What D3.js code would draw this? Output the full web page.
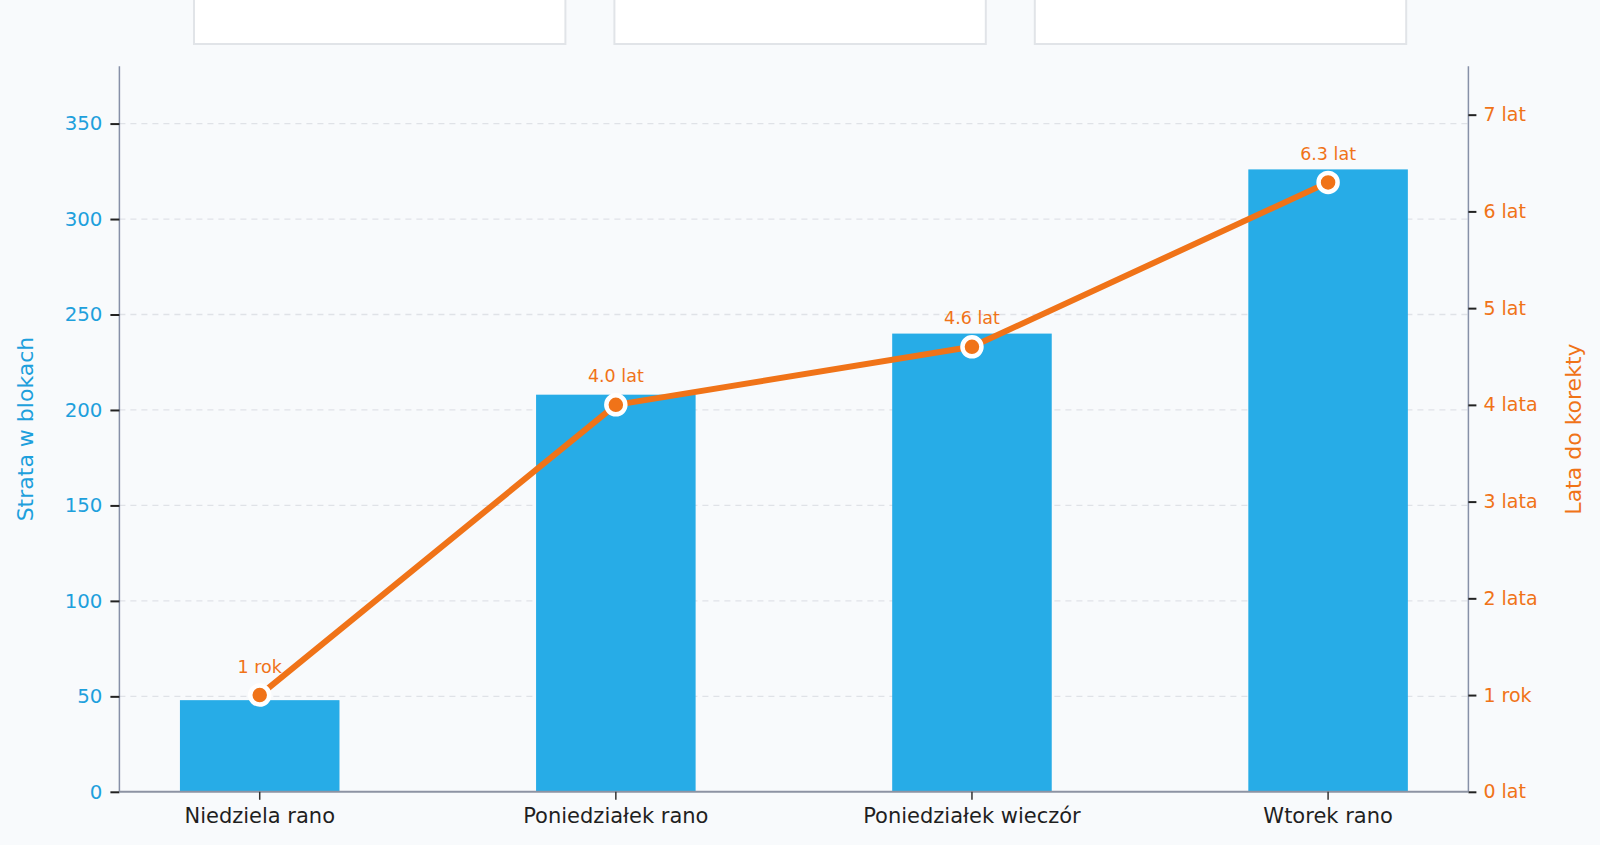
<!DOCTYPE html>
<html>
<head>
<meta charset="utf-8">
<script src="https://cdn.jsdelivr.net/npm/d3@7"></script>
<style>
  html, body { margin: 0; padding: 0; background: #f8fafc; }
  svg { display: block; font-family: "DejaVu Sans", "Open Sans", sans-serif; }
</style>
</head>
<body>
<svg id="chart" width="1600" height="845"></svg>
<script>
const categories = ["Niedziela rano", "Poniedziałek rano", "Poniedziałek wieczór", "Wtorek rano"];
const lossBlocks = [48, 208, 240, 326];
const yearsToCorrection = [1, 4.0, 4.6, 6.3];
const pointLabels = ["1 rok", "4.0 lat", "4.6 lat", "6.3 lat"];
const leftTicks = [0, 50, 100, 150, 200, 250, 300, 350];
const rightTicks = [0, 1, 2, 3, 4, 5, 6, 7];
const rightTickLabels = ["0 lat", "1 rok", "2 lata", "3 lata", "4 lata", "5 lat", "6 lat", "7 lat"];
const cards = ["card1", "card2", "card3"];

const blue = "#27ace7", blueText = "#1ea0dc", orange = "#f07318";
const svg = d3.select("#chart");
const m = {left: 119.4, right: 1468.4, top: 66.3, bottom: 791.8};

// top cards (partially cut off at the top)
const cardX = d3.scaleBand().domain(cards).range([194, 194 + 2 * 420.4 + 371.4]).paddingInner(49 / 420.4).paddingOuter(0);
svg.append("g").selectAll("rect").data(cards).join("rect")
  .attr("x", d => cardX(d)).attr("y", -10)
  .attr("width", cardX.bandwidth()).attr("height", 54)
  .attr("fill", "#ffffff").attr("stroke", "#e1e4e8").attr("stroke-width", 2);

const x = d3.scaleBand().domain(categories).range([m.left, m.right]).paddingInner(0.552).paddingOuter(0.17);
const yL = d3.scaleLinear().domain([0, 380]).range([m.bottom, m.top]);
const yR = d3.scaleLinear().domain([0, 7.5]).range([m.bottom, m.top]);

// grid
svg.append("g").selectAll("line").data(leftTicks.filter(d => d > 0)).join("line")
  .attr("x1", m.left).attr("x2", m.right)
  .attr("y1", d => yL(d)).attr("y2", d => yL(d))
  .attr("stroke", "#dfe2e7").attr("stroke-width", 1.3).attr("stroke-dasharray", "6,5");

// bars
svg.append("g").selectAll("rect").data(categories).join("rect")
  .attr("x", d => x(d)).attr("width", x.bandwidth())
  .attr("y", (d, i) => yL(lossBlocks[i]))
  .attr("height", (d, i) => yL(0) - yL(lossBlocks[i]))
  .attr("fill", blue);

// left axis
const gL = svg.append("g").attr("transform", `translate(${m.left},0)`)
  .call(d3.axisLeft(yL).tickValues(leftTicks).tickSize(9).tickPadding(8));
gL.select(".domain").attr("stroke", "#8790a8").attr("stroke-width", 1.5).attr("d", `M0,${m.top}V${m.bottom}`);
gL.selectAll(".tick line").attr("stroke", "#222").attr("stroke-width", 2);
gL.selectAll(".tick text").attr("fill", blueText).attr("font-size", 19.8).attr("font-family", "'DejaVu Sans', sans-serif");

// right axis
const gR = svg.append("g").attr("transform", `translate(${m.right},0)`)
  .call(d3.axisRight(yR).tickValues(rightTicks).tickFormat((d, i) => rightTickLabels[i]).tickSize(8).tickPadding(7));
gR.select(".domain").attr("stroke", "#8790a8").attr("stroke-width", 1.5).attr("d", `M0,${m.top}V${m.bottom}`);
gR.selectAll(".tick line").attr("stroke", "#222").attr("stroke-width", 2);
gR.selectAll(".tick text").attr("fill", orange).attr("font-size", 19).attr("font-family", "'DejaVu Sans', sans-serif");

// bottom axis
const xc = d => x(d) + x.bandwidth() / 2;
const gB = svg.append("g").attr("transform", `translate(0,${m.bottom})`)
  .call(d3.axisBottom(x).tickSize(8).tickPadding(8));
gB.select(".domain").attr("stroke", "#8d93a3").attr("stroke-width", 2).attr("d", `M${m.left},0H${m.right}`);
gB.selectAll(".tick line").attr("stroke", "#333").attr("stroke-width", 1.5);
gB.selectAll(".tick text").attr("fill", "#1f1f1f").attr("font-size", 21).attr("font-family", "'DejaVu Sans', sans-serif");

// axis titles
svg.append("text").attr("transform", `translate(33,${(m.top + m.bottom) / 2}) rotate(-90)`)
  .attr("text-anchor", "middle").attr("fill", blueText).attr("font-size", 22).text("Strata w blokach");
svg.append("text").attr("transform", `translate(1581,${(m.top + m.bottom) / 2}) rotate(-90)`)
  .attr("text-anchor", "middle").attr("fill", orange).attr("font-size", 22).text("Lata do korekty");

// line
const line = d3.line().x((d, i) => xc(categories[i])).y(d => yR(d));
svg.append("path").datum(yearsToCorrection).attr("d", line)
  .attr("fill", "none").attr("stroke", orange).attr("stroke-width", 6).attr("stroke-linejoin", "round");

svg.append("g").selectAll("circle").data(yearsToCorrection).join("circle")
  .attr("cx", (d, i) => xc(categories[i])).attr("cy", d => yR(d))
  .attr("r", 9.5).attr("fill", orange).attr("stroke", "#ffffff").attr("stroke-width", 4.5);

svg.append("g").selectAll("text").data(yearsToCorrection).join("text")
  .attr("x", (d, i) => xc(categories[i])).attr("y", d => yR(d) - 22.5)
  .attr("text-anchor", "middle").attr("fill", orange).attr("font-size", 17.5)
  .text((d, i) => pointLabels[i]);
</script>
</body>
</html>
